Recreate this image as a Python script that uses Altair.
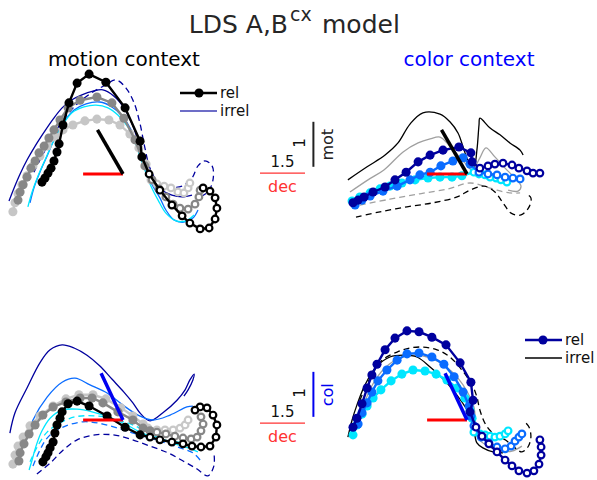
import altair as alt
import pandas as pd

# ------------------------------------------------------------------
# LDS model population trajectories in four projections
#   mm: motion context on (dec, mot)    cm: colour context on (dec, mot)
#   mc: motion context on (dec, col)    cc: colour context on (dec, col)
# Values are in axis units (dec horizontally, mot / col vertically),
# relative to the point where the dec and mot/col axis segments meet.
# "pre" samples are drawn filled, "post" samples open.
# ------------------------------------------------------------------

# ---- motion context, dec / mot -----------------------------------
mm_black_pre_x = [-2.70, -2.60, -2.50, -2.40, -2.30, -2.20, -2.13, -2.00, -1.80, -1.53, -1.13, -0.57, 0.07, 0.57, 0.63]
mm_black_pre_y = [-0.18, -0.09, 0.02, 0.13, 0.29, 0.49, 0.67, 1.09, 1.58, 2.02, 2.22, 2.04, 1.47, 0.73, 0.38]
mm_black_post_x = [0.87, 1.23, 1.63, 1.97, 2.23, 2.57, 2.87, 3.07, 3.13, 3.07, 2.90, 2.67]
mm_black_post_y = [0.00, -0.36, -0.69, -0.93, -1.09, -1.22, -1.20, -1.00, -0.76, -0.53, -0.38, -0.31]

mm_dgrey_pre_x = [-3.50, -3.43, -3.33, -3.20, -3.07, -2.93, -2.80, -2.63, -2.47, -2.30, -2.10, -1.83, -1.43, -0.87, -0.37, 0.03, 0.40, 0.73]
mm_dgrey_pre_y = [-0.58, -0.40, -0.24, -0.07, 0.13, 0.29, 0.47, 0.62, 0.80, 0.98, 1.20, 1.47, 1.64, 1.71, 1.58, 1.24, 0.76, 0.18]
mm_dgrey_post_x = [0.97, 1.20, 1.43, 1.67, 1.90, 2.17, 2.40, 2.53, 2.57]
mm_dgrey_post_y = [-0.13, -0.33, -0.51, -0.67, -0.76, -0.78, -0.67, -0.51, -0.36]

mm_lgrey_pre_x = [-3.67, -3.60, -3.50, -3.37, -3.20, -3.00, -2.77, -2.53, -2.27, -2.00, -1.67, -1.27, -0.87, -0.47, -0.10, 0.23, 0.53, 0.77]
mm_lgrey_pre_y = [-0.84, -0.64, -0.44, -0.24, -0.04, 0.18, 0.40, 0.62, 0.82, 0.98, 1.09, 1.18, 1.22, 1.20, 1.09, 0.89, 0.58, 0.22]
mm_lgrey_post_x = [0.93, 1.13, 1.37, 1.60, 1.83, 2.03, 2.17, 2.23]
mm_lgrey_post_y = [-0.13, -0.22, -0.27, -0.31, -0.40, -0.42, -0.31, -0.20]

mm_navy_x = [-3.80, -3.63, -3.43, -3.20, -2.93, -2.63, -2.33, -2.03, -1.73, -1.37, -1.00, -0.67, -0.30, 0.03, 0.33, 0.57, 0.77, 1.00, 1.30, 1.63, 1.97, 2.30]
mm_navy_y = [-0.60, -0.31, 0.00, 0.31, 0.62, 0.93, 1.22, 1.47, 1.64, 1.76, 1.84, 1.87, 1.73, 1.47, 1.07, 0.58, 0.18, -0.16, -0.36, -0.47, -0.51, -0.47]
mm_navy_dash_x = [-2.97, -2.70, -2.37, -2.00, -1.57, -1.10, -0.63, -0.23, 0.10, 0.37, 0.57, 0.73, 0.90, 1.17, 1.57, 1.97, 2.30, 2.50, 2.73, 2.97, 3.00, 2.83, 2.57]
mm_navy_dash_y = [0.04, 0.40, 0.80, 1.20, 1.53, 1.78, 1.96, 2.09, 1.91, 1.58, 1.11, 0.58, 0.13, -0.18, -0.29, -0.27, -0.09, 0.18, 0.29, 0.18, -0.13, -0.40, -0.51]
mm_blue_x = [-3.10, -2.97, -2.77, -2.53, -2.27, -1.97, -1.63, -1.23, -0.77, -0.37, -0.03, 0.27, 0.50, 0.73, 0.97, 1.23, 1.43, 1.70, 2.03, 2.33, 2.50]
mm_blue_y = [-0.64, -0.31, 0.04, 0.40, 0.80, 1.16, 1.42, 1.56, 1.60, 1.49, 1.29, 0.98, 0.58, 0.13, -0.24, -0.53, -0.80, -1.02, -1.07, -0.98, -0.80]
mm_cyan_x = [-3.17, -3.03, -2.83, -2.60, -2.33, -2.03, -1.70, -1.30, -0.90, -0.50, -0.17, 0.17, 0.43, 0.67, 0.90, 1.17, 1.43, 1.77, 2.10, 2.37]
mm_cyan_y = [-0.73, -0.40, -0.04, 0.31, 0.71, 1.07, 1.36, 1.49, 1.53, 1.47, 1.31, 1.04, 0.64, 0.20, -0.22, -0.58, -0.87, -1.04, -1.04, -0.91]

# ---- colour context, dec / mot -----------------------------------
cm_navy_pre_x = [-3.80, -3.63, -3.43, -3.13, -2.73, -2.40, -2.03, -1.63, -1.23, -0.80, -0.27, 0.13, 0.17]
cm_navy_pre_y = [-0.64, -0.58, -0.51, -0.40, -0.29, -0.13, 0.04, 0.27, 0.42, 0.53, 0.60, 0.47, 0.27]
cm_navy_post_x = [0.43, 0.70, 0.93, 1.20, 1.50, 1.73, 2.00, 2.20, 2.43]
cm_navy_post_y = [0.13, 0.18, 0.22, 0.24, 0.20, 0.13, 0.07, 0.02, 0.02]

cm_blue_pre_x = [-3.73, -3.50, -3.23, -2.80, -2.33, -1.90, -1.57, -1.23, -0.87, -0.47, -0.13, 0.10]
cm_blue_pre_y = [-0.69, -0.58, -0.49, -0.38, -0.27, -0.13, -0.02, 0.04, 0.18, 0.29, 0.36, 0.22]
cm_blue_post_x = [0.40, 0.70, 1.00, 1.27, 1.53, 1.77]
cm_blue_post_y = [0.04, 0.00, -0.02, -0.07, -0.09, -0.11]

cm_cyan_pre_x = [-3.83, -3.57, -3.23, -2.90, -2.57, -2.17, -1.73, -1.30, -0.90, -0.50, -0.17]
cm_cyan_pre_y = [-0.60, -0.51, -0.42, -0.33, -0.27, -0.20, -0.13, -0.09, -0.07, -0.07, -0.04]
cm_cyan_post_x = [0.23, 0.40, 0.60, 0.77, 0.97, 1.13, 1.33]
cm_cyan_post_y = [0.04, 0.00, -0.02, -0.07, -0.09, -0.13, -0.18]

cm_black_x = [-3.97, -3.33, -2.73, -2.30, -1.90, -1.47, -0.90, -0.57, -0.30, -0.13, 0.03, 0.23, 0.33, 0.40, 0.43, 0.77, 1.10, 1.43, 1.77, 1.87]
cm_black_y = [-0.13, 0.16, 0.42, 0.69, 1.11, 1.36, 1.33, 1.16, 0.91, 0.60, 0.31, 0.16, 0.53, 1.09, 1.24, 1.02, 0.87, 0.69, 0.53, 0.42]
cm_grey_x = [-3.90, -3.30, -2.77, -2.13, -1.63, -1.23, -0.90, -0.57, -0.30, -0.10, 0.17, 0.43, 0.63, 0.93, 1.27, 1.57, 1.80, 1.70, 1.37]
cm_grey_y = [-0.40, -0.13, 0.09, 0.49, 0.69, 0.78, 0.82, 0.62, 0.42, 0.27, 0.09, 0.36, 0.58, 0.38, 0.13, -0.07, -0.27, -0.38, -0.36]
cm_grey_dash_x = [-3.57, -2.57, -1.57, -0.63, 0.10, 0.67, 1.00, 1.43, 1.77]
cm_grey_dash_y = [-0.69, -0.56, -0.44, -0.33, -0.20, -0.29, -0.36, -0.42, -0.42]
cm_black_dash_x = [-3.70, -2.90, -2.00, -1.13, -0.33, 0.10, 0.57, 0.93, 1.20, 1.47, 1.80, 2.07, 2.13, 1.97]
cm_black_dash_y = [-0.96, -0.84, -0.73, -0.64, -0.51, -0.36, -0.27, -0.40, -0.64, -0.87, -0.91, -0.73, -0.53, -0.44]

# ---- motion context, dec / col -----------------------------------
mc_black_pre_x = [-2.67, -2.57, -2.50, -2.43, -2.33, -2.27, -2.20, -2.10, -2.03, -1.83, -1.53, -1.13, -0.53, 0.07, 0.57]
mc_black_pre_y = [-0.93, -0.82, -0.73, -0.62, -0.49, -0.29, -0.11, 0.04, 0.18, 0.36, 0.42, 0.31, 0.09, -0.16, -0.33]
mc_black_post_x = [0.90, 1.23, 1.63, 2.00, 2.30, 2.60, 2.90, 3.10, 3.13, 3.00, 2.80, 2.57, 2.40]
mc_black_post_y = [-0.38, -0.44, -0.49, -0.53, -0.58, -0.60, -0.58, -0.38, -0.11, 0.11, 0.27, 0.29, 0.22]

mc_dgrey_pre_x = [-3.47, -3.43, -3.30, -3.13, -2.93, -2.67, -2.33, -1.90, -1.43, -1.03, -0.67, -0.17, 0.33, 0.67, 0.90]
mc_dgrey_pre_y = [-0.91, -0.73, -0.53, -0.31, -0.11, 0.11, 0.29, 0.40, 0.49, 0.49, 0.38, 0.18, 0.00, -0.18, -0.24]
mc_dgrey_post_x = [1.13, 1.43, 1.73, 2.00, 2.27, 2.47, 2.60, 2.67, 2.60]
mc_dgrey_post_y = [-0.27, -0.31, -0.36, -0.40, -0.42, -0.38, -0.24, -0.09, 0.07]

mc_lgrey_pre_x = [-3.67, -3.60, -3.50, -3.33, -3.10, -2.77, -2.33, -1.90, -1.47, -1.00, -0.57, -0.07, 0.33, 0.67, 0.83]
mc_lgrey_pre_y = [-0.98, -0.78, -0.58, -0.38, -0.13, 0.09, 0.31, 0.47, 0.56, 0.56, 0.47, 0.27, 0.09, -0.09, -0.18]
mc_lgrey_post_x = [1.13, 1.40, 1.67, 1.90, 2.07, 2.17]
mc_lgrey_post_y = [-0.22, -0.22, -0.22, -0.18, -0.11, 0.00]

mc_navy_x = [-3.77, -3.60, -3.20, -2.77, -2.43, -2.03, -1.63, -1.20, -0.77, -0.37, 0.03, 0.33, 0.60, 0.90, 1.33, 1.80, 2.07, 2.23, 2.37, 2.33, 2.17, 2.03]
mc_navy_y = [-0.29, 0.16, 0.71, 1.27, 1.56, 1.67, 1.60, 1.44, 1.20, 0.91, 0.62, 0.38, 0.13, -0.02, 0.16, 0.44, 0.67, 0.89, 1.02, 0.89, 0.67, 0.53]
mc_blue_x = [-3.27, -3.00, -2.53, -2.03, -1.60, -1.10, -0.53, 0.00, 0.50, 1.00, 1.57, 2.13, 2.33]
mc_blue_y = [-0.56, 0.00, 0.51, 0.84, 0.93, 0.78, 0.60, 0.33, 0.11, 0.00, 0.11, 0.29, 0.31]
mc_cyan_x = [-3.13, -3.03, -2.90, -2.70, -2.43, -2.03, -1.53, -1.03, -0.50, 0.07, 0.57, 1.07, 1.57, 2.07]
mc_cyan_y = [-1.11, -0.89, -0.58, -0.24, 0.04, 0.22, 0.24, 0.18, 0.07, -0.09, -0.27, -0.40, -0.47, -0.51]
mc_navy_dash_x = [-2.87, -2.43, -2.00, -1.53, -0.93, -0.33, 0.23, 0.90, 1.50, 2.00, 2.47, 2.83, 3.03, 3.03]
mc_navy_dash_y = [-1.20, -0.96, -0.67, -0.44, -0.33, -0.33, -0.42, -0.58, -0.73, -0.91, -1.09, -1.24, -1.02, -0.71]
mc_blue_dash_x = [-3.00, -2.77, -2.50, -2.00, -1.33, -0.67, 0.00, 0.67, 1.33, 1.90, 2.33, 2.57]
mc_blue_dash_y = [-1.02, -0.67, -0.38, -0.16, -0.04, -0.09, -0.22, -0.36, -0.49, -0.62, -0.73, -0.89]
mc_cyan_dash_x = [-3.10, -2.83, -2.53, -2.17, -1.60, -0.93, -0.27, 0.40, 1.07, 1.63, 2.17, 2.50]
mc_cyan_dash_y = [-0.93, -0.56, -0.27, -0.09, 0.07, 0.09, 0.02, -0.13, -0.36, -0.51, -0.62, -0.71]

# ---- colour context, dec / col -----------------------------------
cc_navy_pre_x = [-3.80, -3.67, -3.50, -3.33, -3.17, -3.00, -2.73, -2.40, -2.00, -1.60, -1.17, -0.70, -0.23, 0.13, 0.20, 0.10]
cc_navy_pre_y = [-0.16, 0.04, 0.36, 0.71, 1.00, 1.24, 1.56, 1.82, 1.98, 1.96, 1.84, 1.67, 1.27, 0.84, 0.44, 0.18]
cc_navy_post_x = [0.30, 0.50, 0.73, 1.00, 1.27, 1.50, 1.73, 2.00, 2.23, 2.40, 2.47, 2.47, 2.43]
cc_navy_post_y = [-0.16, -0.36, -0.53, -0.71, -0.89, -1.02, -1.13, -1.18, -1.13, -0.98, -0.78, -0.60, -0.44]

cc_blue_pre_x = [-3.63, -3.50, -3.33, -3.17, -2.97, -2.67, -2.33, -2.00, -1.60, -1.17, -0.77, -0.43, -0.13, 0.07, 0.13]
cc_blue_pre_y = [-0.09, 0.16, 0.38, 0.62, 0.87, 1.11, 1.33, 1.47, 1.49, 1.40, 1.24, 0.96, 0.62, 0.31, 0.09]
cc_blue_post_x = [0.23, 0.47, 0.73, 1.00, 1.27, 1.47, 1.60, 1.73, 1.83]
cc_blue_post_y = [-0.13, -0.38, -0.51, -0.60, -0.64, -0.58, -0.47, -0.38, -0.31]

cc_cyan_pre_x = [-3.80, -3.67, -3.50, -3.33, -3.13, -2.87, -2.53, -2.17, -1.80, -1.40, -1.03, -0.67, -0.33, -0.07, 0.10, 0.17]
cc_cyan_pre_y = [-0.33, -0.11, 0.13, 0.31, 0.49, 0.67, 0.87, 1.02, 1.11, 1.09, 1.02, 0.89, 0.71, 0.49, 0.22, 0.04]
cc_cyan_post_x = [0.23, 0.43, 0.60, 0.77, 0.93, 1.10, 1.27, 1.37]
cc_cyan_post_y = [-0.27, -0.31, -0.33, -0.36, -0.38, -0.36, -0.31, -0.24]

cc_black_x = [-3.97, -3.83, -3.67, -3.40, -3.03, -2.57, -2.13, -1.67, -1.23, -0.83, -0.47, -0.17, 0.10, 0.23, 0.33, 0.53, 0.87, 1.20]
cc_black_y = [-0.38, 0.00, 0.33, 0.78, 1.18, 1.40, 1.44, 1.40, 1.18, 0.93, 0.67, 0.40, 0.11, -0.22, -0.51, -0.62, -0.71, -0.73]
cc_black_dash_x = [-3.57, -3.23, -2.83, -2.33, -1.90, -1.47, -1.00, -0.57, -0.17, 0.17, 0.33, 0.43, 0.63, 0.93, 1.27, 1.60, 1.83, 2.03, 2.13, 2.07, 1.97]
cc_black_dash_y = [0.44, 0.93, 1.33, 1.51, 1.60, 1.62, 1.56, 1.40, 1.11, 0.78, 0.51, 0.22, -0.11, -0.33, -0.44, -0.62, -0.71, -0.60, -0.38, -0.16, -0.07]
cc_grey_x = [-3.50, -3.17, -2.73, -2.23, -1.73, -1.23, -0.73, -0.30, 0.03, 0.23, 0.37, 0.70, 1.10, 1.50, 1.83]
cc_grey_y = [0.22, 0.76, 1.16, 1.38, 1.44, 1.38, 1.20, 0.93, 0.60, 0.29, -0.40, -0.58, -0.69, -0.69, -0.58]

# ---- axis segments (direction vectors from the origin) -------------
DEC_AXIS = (-1.33, 0.0)
MOT_AXIS = (-0.85, 0.98)
COL_AXIS = (-0.73, 1.04)

# ---- scale bar lengths ------------------------------------------
SCALE_DEC = 1.5
SCALE_VERT = 1.0

# ------------------------------------------------------------------
# layout
# ------------------------------------------------------------------
W, H = 597, 480
PX_PER_X, PX_PER_Y = 30.0, 45.0          # pixels per axis unit
FONT = "DejaVu Sans"

ORIGIN = {
    "mm": (123 / PX_PER_X, (H - 174) / PX_PER_Y),
    "cm": (467 / PX_PER_X, (H - 174) / PX_PER_Y),
    "mc": (123 / PX_PER_X, (H - 420) / PX_PER_Y),
    "cc": (467 / PX_PER_X, (H - 420) / PX_PER_Y),
}

BLACK = "#000000"
DGREY = "#878787"
LGREY = "#c6c6c6"
NAVY = "#00009e"
BLUE = "#0a6cff"
CYAN = "#00e6ff"
THIN_GREY = "#a0a0a0"
RED = "#ff0000"
BAR_RED = "#ff3333"
AX_BLUE = "#0000f0"

DOT_SIZE = 82
RING_SIZE = 44

XS = alt.Scale(domain=[0, W / PX_PER_X], nice=False, zero=False)
YS = alt.Scale(domain=[0, H / PX_PER_Y], nice=False, zero=False)
X = alt.X("gx:Q", scale=XS, axis=None)
Y = alt.Y("gy:Q", scale=YS, axis=None)
ONE = pd.DataFrame({"k": [0]})


def frame(panel, xs, ys, start=0):
    ox, oy = ORIGIN[panel]
    return pd.DataFrame({
        "i": list(range(start, start + len(xs))),
        "gx": [ox + v for v in xs],
        "gy": [oy + v for v in ys],
    })


def rel(panel, color, px, py, qx, qy, ring=None):
    pre = frame(panel, px, py)
    post = frame(panel, qx, qy, start=len(px))
    both = pd.concat([pre, post], ignore_index=True)
    line = alt.Chart(both).mark_line(color=color, strokeWidth=2.4).encode(x=X, y=Y, order="i:Q")
    dots = alt.Chart(pre).mark_circle(color=color, size=DOT_SIZE, opacity=1).encode(x=X, y=Y)
    rings = alt.Chart(post).mark_circle(
        fill="white", stroke=ring or color, strokeWidth=2.2, size=RING_SIZE, opacity=1
    ).encode(x=X, y=Y)
    return [line, dots, rings]


def irrel(panel, color, xs, ys, dashed=False):
    kw = dict(color=color, strokeWidth=1.3, interpolate="catmull-rom")
    if dashed:
        kw["strokeDash"] = [6, 4]
    return alt.Chart(frame(panel, xs, ys)).mark_line(**kw).encode(x=X, y=Y, order="i:Q")


def segment(panel, x0, y0, x1, y1, color, width):
    ox, oy = ORIGIN[panel]
    df = pd.DataFrame({"gx": [ox + x0], "gy": [oy + y0], "gx2": [ox + x1], "gy2": [oy + y1]})
    return alt.Chart(df).mark_rule(color=color, strokeWidth=width).encode(
        x=X, y=Y, x2="gx2:Q", y2="gy2:Q")


def label(panel, x, y, s, size, color, angle=None, baseline="alphabetic"):
    ox, oy = ORIGIN[panel]
    df = pd.DataFrame({"gx": [ox + x], "gy": [oy + y]})
    kw = dict(text=s, font=FONT, fontSize=size, color=color, align="center", baseline=baseline)
    if angle is not None:
        kw["angle"] = angle
    return alt.Chart(df).mark_text(**kw).encode(x=X, y=Y)


def text_px(s, x, y, size, color, align="left", baseline="alphabetic"):
    return alt.Chart(ONE).mark_text(
        text=s, font=FONT, fontSize=size, color=color, align=align, baseline=baseline
    ).encode(x=alt.value(x), y=alt.value(y))


def choice_axes(panel, vec, color):
    return [
        segment(panel, DEC_AXIS[0], DEC_AXIS[1], 0, 0, RED, 3),
        segment(panel, vec[0], vec[1], 0, 0, color, 3.5),
    ]


def scale_bar(panel, bx, by, name, name_color, bar_color):
    return [
        segment(panel, bx, by, bx + SCALE_DEC, by, BAR_RED, 1.3),
        segment(panel, bx + 1.78, by + 0.14, bx + 1.78, by + 0.14 + SCALE_VERT, bar_color, 2),
        label(panel, bx + SCALE_DEC / 2, by + 0.13, "1.5", 15, "#111111"),
        label(panel, bx + SCALE_DEC / 2, by - 0.42, "dec", 16, BAR_RED),
        label(panel, bx + 1.33, by + 0.67, "1", 15, "#111111", angle=270, baseline="middle"),
        label(panel, bx + 2.25, by + 0.63, name, 16, name_color, angle=270, baseline="middle"),
    ]


layers = []

# motion context / mot
layers += [
    irrel("mm", NAVY, mm_navy_x, mm_navy_y),
    irrel("mm", NAVY, mm_navy_dash_x, mm_navy_dash_y, dashed=True),
    irrel("mm", BLUE, mm_blue_x, mm_blue_y),
    irrel("mm", CYAN, mm_cyan_x, mm_cyan_y),
]
layers += rel("mm", LGREY, mm_lgrey_pre_x, mm_lgrey_pre_y, mm_lgrey_post_x, mm_lgrey_post_y, ring="#c8c8c8")
layers += rel("mm", DGREY, mm_dgrey_pre_x, mm_dgrey_pre_y, mm_dgrey_post_x, mm_dgrey_post_y)
layers += rel("mm", BLACK, mm_black_pre_x, mm_black_pre_y, mm_black_post_x, mm_black_post_y)
layers += choice_axes("mm", MOT_AXIS, BLACK)

# colour context / mot
layers += [
    irrel("cm", BLACK, cm_black_x, cm_black_y),
    irrel("cm", THIN_GREY, cm_grey_x, cm_grey_y),
    irrel("cm", THIN_GREY, cm_grey_dash_x, cm_grey_dash_y, dashed=True),
    irrel("cm", BLACK, cm_black_dash_x, cm_black_dash_y, dashed=True),
]
layers += rel("cm", CYAN, cm_cyan_pre_x, cm_cyan_pre_y, cm_cyan_post_x, cm_cyan_post_y)
layers += rel("cm", BLUE, cm_blue_pre_x, cm_blue_pre_y, cm_blue_post_x, cm_blue_post_y)
layers += rel("cm", NAVY, cm_navy_pre_x, cm_navy_pre_y, cm_navy_post_x, cm_navy_post_y)
layers += choice_axes("cm", MOT_AXIS, BLACK)
layers += scale_bar("cm", -6.90, 0.02, "mot", "#222222", "#222222")

# motion context / col
layers += [
    irrel("mc", NAVY, mc_navy_x, mc_navy_y),
    irrel("mc", BLUE, mc_blue_x, mc_blue_y),
    irrel("mc", CYAN, mc_cyan_x, mc_cyan_y),
    irrel("mc", NAVY, mc_navy_dash_x, mc_navy_dash_y, dashed=True),
    irrel("mc", BLUE, mc_blue_dash_x, mc_blue_dash_y, dashed=True),
    irrel("mc", CYAN, mc_cyan_dash_x, mc_cyan_dash_y, dashed=True),
]
layers += rel("mc", LGREY, mc_lgrey_pre_x, mc_lgrey_pre_y, mc_lgrey_post_x, mc_lgrey_post_y, ring="#c8c8c8")
layers += rel("mc", DGREY, mc_dgrey_pre_x, mc_dgrey_pre_y, mc_dgrey_post_x, mc_dgrey_post_y)
layers += rel("mc", BLACK, mc_black_pre_x, mc_black_pre_y, mc_black_post_x, mc_black_post_y)
layers += choice_axes("mc", COL_AXIS, AX_BLUE)

# colour context / col
layers += [
    irrel("cc", THIN_GREY, cc_grey_x, cc_grey_y),
    irrel("cc", BLACK, cc_black_x, cc_black_y),
    irrel("cc", BLACK, cc_black_dash_x, cc_black_dash_y, dashed=True),
]
layers += rel("cc", CYAN, cc_cyan_pre_x, cc_cyan_pre_y, cc_cyan_post_x, cc_cyan_post_y)
layers += rel("cc", BLUE, cc_blue_pre_x, cc_blue_pre_y, cc_blue_post_x, cc_blue_post_y)
layers += rel("cc", NAVY, cc_navy_pre_x, cc_navy_pre_y, cc_navy_post_x, cc_navy_post_y)
layers += choice_axes("cc", COL_AXIS, AX_BLUE)
layers += scale_bar("cc", -6.90, -0.07, "col", AX_BLUE, AX_BLUE)

# titles
layers += [
    text_px("LDS A,B", 288, 33, 25, "#262626", align="right"),
    text_px("cx", 290, 21, 19, "#262626"),
    text_px("model", 322, 33, 25, "#262626"),
    text_px("motion context", 124, 66, 20, "#000000", align="center"),
    text_px("color context", 469, 66, 20, "#0000ff", align="center"),
]

# legends
layers += [
    alt.Chart(ONE).mark_rule(color=BLACK, strokeWidth=2.4).encode(
        x=alt.value(180), x2=alt.value(217), y=alt.value(93)),
    alt.Chart(ONE).mark_circle(color=BLACK, size=DOT_SIZE, opacity=1).encode(
        x=alt.value(199), y=alt.value(93)),
    alt.Chart(ONE).mark_rule(color="#3c3cb4", strokeWidth=1.3).encode(
        x=alt.value(180), x2=alt.value(217), y=alt.value(111)),
    text_px("rel", 220, 98, 15, "#111111"),
    text_px("irrel", 220, 116, 15, "#111111"),
    alt.Chart(ONE).mark_rule(color=NAVY, strokeWidth=2.4).encode(
        x=alt.value(525), x2=alt.value(562), y=alt.value(340)),
    alt.Chart(ONE).mark_circle(color=NAVY, size=DOT_SIZE, opacity=1).encode(
        x=alt.value(543), y=alt.value(340)),
    alt.Chart(ONE).mark_rule(color=BLACK, strokeWidth=1.3).encode(
        x=alt.value(525), x2=alt.value(562), y=alt.value(358)),
    text_px("rel", 565, 345, 15, "#111111"),
    text_px("irrel", 565, 363, 15, "#111111"),
]

chart = alt.layer(*layers).properties(
    width=W,
    height=H,
    autosize=alt.AutoSizeParams(type="none"),
    padding=0,
    background="white",
).configure_view(stroke=None)

chart.save("out.html", embed_options={"renderer": "svg", "actions": False})
